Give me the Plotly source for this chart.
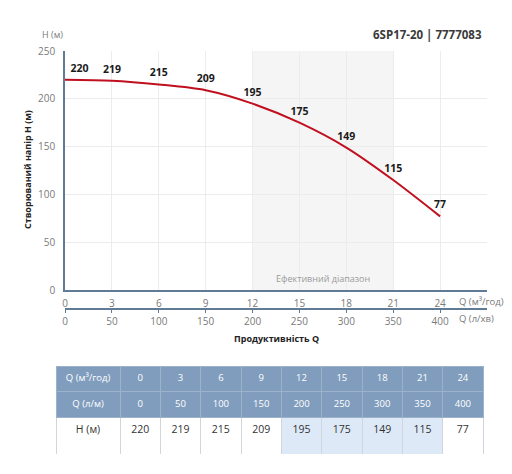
import plotly.graph_objects as go

# pump curve data
q_m3h = [0, 3, 6, 9, 12, 15, 18, 21, 24]
q_lmin = [0, 50, 100, 150, 200, 250, 300, 350, 400]
head_m = [220, 219, 215, 209, 195, 175, 149, 115, 77]
eff_range = [12, 21]

# page has an 8px body margin, so the figure is a bit smaller and positions are shifted
PAD = 8
W, H = 512 - PAD, 474 - PAD
FONT = "Open Sans"
AXIS_COL = "#5f7b95"
GRID_COL = "#ececec"
TICK_COL = "#7a7a7a"


def px_x(p):
    return (p - PAD) / W


def px_y(p):
    return 1 - (p - PAD) / H


fig = go.Figure()

label_pos = ["top right"] + ["top center"] * (len(q_m3h) - 1)
fig.add_trace(go.Scatter(
    x=q_m3h, y=head_m,
    mode="lines+markers+text",
    line=dict(color="#c0101f", width=2, shape="spline", smoothing=0.8),
    marker=dict(size=7, color="rgba(0,0,0,0)"),
    text=[str(v) for v in head_m],
    textposition=label_pos,
    textfont=dict(family=FONT, size=10.5, color="#1a1a1a", weight="bold"),
    hoverinfo="skip",
    showlegend=False,
))

# invisible trace to carry the l/min axis
fig.add_trace(go.Scatter(
    x=q_lmin, y=head_m, xaxis="x2",
    mode="markers", marker=dict(opacity=0),
    hoverinfo="skip", showlegend=False,
))

# efficient range
fig.add_shape(type="rect", xref="x", yref="y",
              x0=eff_range[0], x1=eff_range[1], y0=0, y1=250,
              fillcolor="#f5f5f5", line_width=0, layer="below")

# table
col_fill = ["white"] + ["#dde9f7" if eff_range[0] <= q <= eff_range[1] else "white" for q in q_m3h]
fig.add_trace(go.Table(
    domain=dict(x=[px_x(56), px_x(483)], y=[px_y(455), px_y(366)]),
    columnwidth=[64] + [40.3] * len(q_m3h),
    header=dict(
        values=[["Q (м³/год)", "Q (л/м)"]] + [[str(a), str(b)] for a, b in zip(q_m3h, q_lmin)],
        fill_color="#809dbd",
        line_color="#9cb2ca",
        font=dict(family=FONT, size=9.5, color="white"),
        align="center",
        height=25.5,
    ),
    cells=dict(
        values=[["H (м)"]] + [[str(h)] for h in head_m],
        fill_color=[[c] for c in col_fill],
        line_color="#cfd6de",
        font=dict(family=FONT, size=10.5, color="#333333"),
        align="center",
        height=38,
    ),
))

fig.update_layout(
    width=W, height=H,
    margin=dict(l=0, r=0, t=0, b=0, autoexpand=False),
    paper_bgcolor="white", plot_bgcolor="white",
    font=dict(family=FONT),
    xaxis=dict(
        domain=[px_x(65), px_x(487)], range=[0, 27], automargin=False,
        tickvals=q_m3h, showgrid=True, gridcolor=GRID_COL, zeroline=False,
        showline=True, linecolor=AXIS_COL, linewidth=1.5,
        ticks="outside", ticklen=3, tickcolor="rgba(0,0,0,0)",
        tickfont=dict(size=10, color=TICK_COL),
        anchor="y",
    ),
    xaxis2=dict(
        overlaying="x", anchor="free", position=px_y(309), side="bottom",
        range=[0, 450], tickvals=q_lmin, showgrid=False, zeroline=False,
        automargin=False,
        showline=True, linecolor=AXIS_COL, linewidth=1.5,
        ticks="outside", ticklen=3, tickcolor=AXIS_COL,
        tickfont=dict(size=10, color=TICK_COL),
    ),
    yaxis=dict(
        domain=[px_y(290), px_y(51)], range=[0, 250], automargin=False,
        dtick=50, showgrid=True, gridcolor=GRID_COL, zeroline=False,
        showline=True, linecolor=AXIS_COL, linewidth=1.5,
        ticks="outside", ticklen=6, tickcolor="rgba(0,0,0,0)",
        tickfont=dict(size=10, color=TICK_COL),
    ),
    annotations=[
        dict(text="H (м)", x=px_x(40), y=px_y(35), xref="paper", yref="paper",
             xanchor="left", yanchor="middle", showarrow=False,
             font=dict(size=9, color=TICK_COL)),
        dict(text="6SP17-20 | 7777083", x=px_x(484), y=px_y(34), xref="paper", yref="paper",
             xanchor="right", yanchor="middle", showarrow=False,
             font=dict(size=11.5, color="#3a3a3a", weight="bold")),
        dict(text="Створюваний напір H (м)", x=px_x(28), y=px_y(170), xref="paper", yref="paper",
             textangle=-90, xanchor="center", yanchor="middle", showarrow=False,
             font=dict(size=9, color="#222222", weight="bold")),
        dict(text="Q (м³/год)", x=px_x(457), y=px_y(301), xref="paper", yref="paper",
             xanchor="left", yanchor="middle", showarrow=False,
             font=dict(size=9.5, color=TICK_COL)),
        dict(text="Q (л/хв)", x=px_x(457), y=px_y(318), xref="paper", yref="paper",
             xanchor="left", yanchor="middle", showarrow=False,
             font=dict(size=9.5, color=TICK_COL)),
        dict(text="Продуктивність Q", x=px_x(276), y=px_y(338), xref="paper", yref="paper",
             xanchor="center", yanchor="middle", showarrow=False,
             font=dict(size=9, color="#222222", weight="bold")),
        dict(text="Ефективний діапазон", x=(eff_range[0] + eff_range[1]) / 2, y=px_y(278),
             xref="x", yref="paper", xanchor="center", yanchor="middle", showarrow=False,
             font=dict(size=9, color="#9a9a9a")),
    ],
)

fig.write_html("out.html")
